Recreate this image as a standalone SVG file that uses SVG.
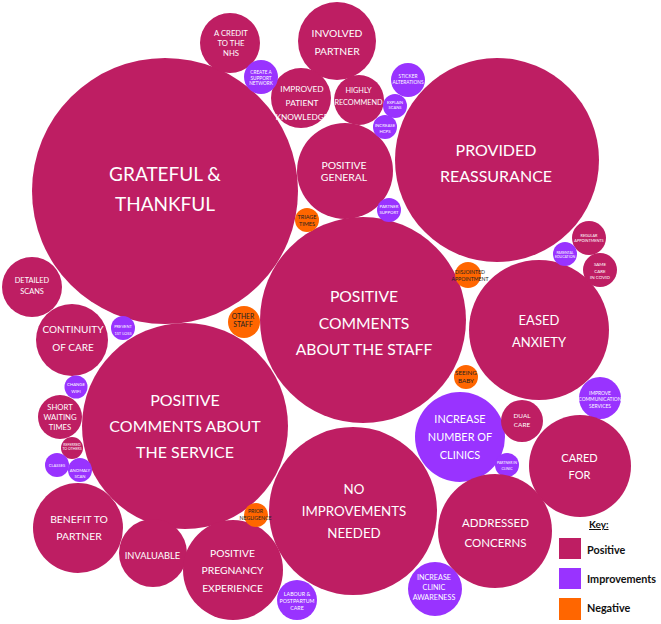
<svg xmlns="http://www.w3.org/2000/svg" width="661" height="624" viewBox="0 0 661 624">
<style>
.p{fill:#BE1E63}
.i{fill:#9933FF}
.o{fill:#FF6600}
text{font-family:Lato,"Liberation Sans",sans-serif;text-anchor:middle;fill:#FFFFFF}
.d{fill:#222222}
.k{text-anchor:start;fill:#111111;font-weight:bold}
</style>
<rect width="661" height="624" fill="#FFFFFF"/>
<g id="grateful"><circle class="p" cx="165" cy="191" r="133"/><text font-size="19"><tspan x="165" y="181">GRATEFUL &amp;</tspan><tspan x="165" y="211">THANKFUL</tspan></text></g>
<g id="reassurance"><circle class="p" cx="497" cy="160" r="102"/><text font-size="16"><tspan x="496" y="156">PROVIDED</tspan><tspan x="496" y="182">REASSURANCE</tspan></text></g>
<g id="staff"><circle class="p" cx="363" cy="320" r="103"/><text font-size="15.7"><tspan x="364" y="302">POSITIVE</tspan><tspan x="364" y="329">COMMENTS</tspan><tspan x="364" y="355">ABOUT THE STAFF</tspan></text></g>
<g id="service"><circle class="p" cx="185" cy="426" r="103"/><text font-size="16"><tspan x="185" y="406">POSITIVE</tspan><tspan x="185" y="432">COMMENTS ABOUT</tspan><tspan x="185" y="458">THE SERVICE</tspan></text></g>
<g id="noimprovements"><circle class="p" cx="353" cy="511" r="84"/><text font-size="13.3"><tspan x="354" y="494">NO</tspan><tspan x="354" y="516">IMPROVEMENTS</tspan><tspan x="354" y="538">NEEDED</tspan></text></g>
<g id="eased"><circle class="p" cx="539" cy="330" r="70"/><text font-size="13"><tspan x="539" y="325">EASED</tspan><tspan x="539" y="347">ANXIETY</tspan></text></g>
<g id="general"><circle class="p" cx="345" cy="171" r="48"/><text font-size="10.4"><tspan x="344" y="169">POSITIVE</tspan><tspan x="344" y="181">GENERAL</tspan></text></g>
<g id="involved"><circle class="p" cx="337" cy="41" r="39"/><text font-size="10.3"><tspan x="337" y="37">INVOLVED</tspan><tspan x="337" y="55">PARTNER</tspan></text></g>
<g id="knowledge"><circle class="p" cx="301" cy="98" r="30"/><text font-size="8.3"><tspan x="302" y="92">IMPROVED</tspan><tspan x="302" y="106">PATIENT</tspan><tspan x="302" y="120">KNOWLEDGE</tspan></text></g>
<g id="recommend"><circle class="p" cx="359" cy="100" r="25"/><text font-size="7.3"><tspan x="358.5" y="93">HIGHLY</tspan><tspan x="358.5" y="105">RECOMMEND</tspan></text></g>
<g id="credit"><circle class="p" cx="230" cy="43" r="30"/><text font-size="7.7"><tspan x="231" y="36">A CREDIT</tspan><tspan x="231" y="46">TO THE</tspan><tspan x="231" y="56">NHS</tspan></text></g>
<g id="network"><circle class="i" cx="261" cy="77" r="17"/><text font-size="4.7"><tspan x="261" y="74">CREATE A</tspan><tspan x="261" y="79.5">SUPPORT</tspan><tspan x="261" y="85">NETWORK</tspan></text></g>
<g id="sticker"><circle class="i" cx="408" cy="80" r="17"/><text font-size="4.8"><tspan x="408" y="78">STICKER</tspan><tspan x="408" y="84">ALTERATIONS</tspan></text></g>
<g id="explain"><circle class="i" cx="395" cy="106" r="12"/><text font-size="4"><tspan x="395" y="104.2">EXPLAIN</tspan><tspan x="395" y="108.8">SCANS</tspan></text></g>
<g id="hcps"><circle class="i" cx="385" cy="127" r="12"/><text font-size="4.3"><tspan x="385" y="126.5">INCREASE</tspan><tspan x="385" y="132.5">HCPS</tspan></text></g>
<g id="triage"><circle class="o" cx="307" cy="220" r="12"/><text class="d" font-size="5.5"><tspan x="307" y="219">TRIAGE</tspan><tspan x="307" y="226">TIMES</tspan></text></g>
<g id="partnersupport"><circle class="i" cx="389" cy="210" r="12"/><text font-size="4.3"><tspan x="389" y="208.3">PARTNER</tspan><tspan x="389" y="213.8">SUPPORT</tspan></text></g>
<g id="disjointed"><circle class="o" cx="468" cy="275" r="13"/><text class="d" font-size="5.2"><tspan x="470" y="274">DISJOINTED</tspan><tspan x="470" y="281">APPOINTMENT</tspan></text></g>
<g id="regular"><circle class="p" cx="589" cy="238" r="17"/><text font-size="3.8"><tspan x="589" y="236.5">REGULAR</tspan><tspan x="589" y="241.5">APPOINTMENTS</tspan></text></g>
<g id="parental"><circle class="i" cx="565" cy="254" r="12"/><text font-size="3.5"><tspan x="565" y="254.3">PARENTAL</tspan><tspan x="565" y="258.3">EDUCATION</tspan></text></g>
<g id="samecare"><circle class="p" cx="600" cy="270" r="17"/><text font-size="4.5"><tspan x="600" y="265.6">SAME</tspan><tspan x="600" y="272.6">CARE</tspan><tspan x="600" y="278.6">IN COVID</tspan></text></g>
<g id="detailed"><circle class="p" cx="32" cy="287" r="30"/><text font-size="7.4"><tspan x="32" y="283">DETAILED</tspan><tspan x="32" y="294">SCANS</tspan></text></g>
<g id="continuity"><circle class="p" cx="72" cy="340" r="36"/><text font-size="10"><tspan x="73" y="333">CONTINUITY</tspan><tspan x="73" y="351">OF CARE</tspan></text></g>
<g id="prevent"><circle class="i" cx="123" cy="328" r="12"/><text font-size="4"><tspan x="123" y="327.5">PREVENT</tspan><tspan x="123" y="334.5">1ST LOSS</tspan></text></g>
<g id="wifi"><circle class="i" cx="76" cy="387" r="11.5"/><text font-size="4.3"><tspan x="76" y="385.5">CHANGE</tspan><tspan x="76" y="392.5">WIFI</tspan></text></g>
<g id="waiting"><circle class="p" cx="60" cy="417" r="22"/><text font-size="7.7"><tspan x="60" y="410">SHORT</tspan><tspan x="60" y="420">WAITING</tspan><tspan x="60" y="430">TIMES</tspan></text></g>
<g id="referred"><circle class="p" cx="72" cy="448" r="11"/><text font-size="3.5"><tspan x="72" y="446.3">REFERRED</tspan><tspan x="72" y="450.3">TO OTHERS</tspan></text></g>
<g id="classes"><circle class="i" cx="57" cy="465" r="12"/><text font-size="4"><tspan x="57" y="467.4">CLASSES</tspan></text></g>
<g id="anomaly"><circle class="i" cx="80" cy="470" r="12"/><text font-size="4.2"><tspan x="80" y="471.5">ANOMALY</tspan><tspan x="80" y="477.5">SCAN</tspan></text></g>
<g id="otherstaff"><circle class="o" cx="244" cy="322" r="16"/><text class="d" font-size="6.8"><tspan x="243" y="318.5">OTHER</tspan><tspan x="243" y="326.5">STAFF</tspan></text></g>
<g id="seeingbaby"><circle class="o" cx="466" cy="377" r="12"/><text class="d" font-size="6.3"><tspan x="466" y="375.3">SEEING</tspan><tspan x="466" y="383.3">BABY</tspan></text></g>
<g id="clinics"><circle class="i" cx="460" cy="437" r="45"/><text font-size="10.9"><tspan x="460" y="423">INCREASE</tspan><tspan x="460" y="441">NUMBER OF</tspan><tspan x="460" y="459">CLINICS</tspan></text></g>
<g id="dualcare"><circle class="p" cx="522" cy="421" r="21"/><text font-size="6.4"><tspan x="522" y="418.3">DUAL</tspan><tspan x="522" y="427.3">CARE</tspan></text></g>
<g id="partnerclinic"><circle class="i" cx="507" cy="465" r="12"/><text font-size="3.5"><tspan x="507" y="464.3">PARTNER IN</tspan><tspan x="507" y="470.3">CLINIC</tspan></text></g>
<g id="communication"><circle class="i" cx="600" cy="398" r="21"/><text font-size="4.9"><tspan x="600" y="394.8">IMPROVE</tspan><tspan x="600" y="400.8">COMMUNICATION</tspan><tspan x="600" y="407.8">SERVICES</tspan></text></g>
<g id="caredfor"><circle class="p" cx="580" cy="466" r="51"/><text font-size="11"><tspan x="579.5" y="462">CARED</tspan><tspan x="579.5" y="479">FOR</tspan></text></g>
<g id="addressed"><circle class="p" cx="495" cy="531" r="57"/><text font-size="11.5"><tspan x="495.5" y="527">ADDRESSED</tspan><tspan x="495.5" y="547">CONCERNS</tspan></text></g>
<g id="benefit"><circle class="p" cx="78" cy="528" r="45"/><text font-size="10.4"><tspan x="79" y="523">BENEFIT TO</tspan><tspan x="79" y="540">PARTNER</tspan></text></g>
<g id="invaluable"><circle class="p" cx="153" cy="553" r="34"/><text font-size="9.3"><tspan x="152.5" y="559">INVALUABLE</tspan></text></g>
<g id="pregnancy"><circle class="p" cx="233" cy="570" r="50"/><text font-size="10.3"><tspan x="232.5" y="557">POSITIVE</tspan><tspan x="232.5" y="574">PREGNANCY</tspan><tspan x="232.5" y="592">EXPERIENCE</tspan></text></g>
<g id="labour"><circle class="i" cx="297" cy="600" r="20"/><text font-size="5.3"><tspan x="297" y="596">LABOUR &amp;</tspan><tspan x="297" y="603">POSTPARTUM</tspan><tspan x="297" y="610">CARE</tspan></text></g>
<g id="negligence"><circle class="o" cx="256" cy="515" r="12"/><text class="d" font-size="5.2"><tspan x="255.5" y="513">PRIOR</tspan><tspan x="255.5" y="520">NEGLIGENCE</tspan></text></g>
<g id="awareness"><circle class="i" cx="435" cy="589" r="27"/><text font-size="7.2"><tspan x="434" y="579.6">INCREASE</tspan><tspan x="434" y="589.6">CLINIC</tspan><tspan x="434" y="599.6">AWARENESS</tspan></text></g>
<g id="connectors"></g>
<g id="key">
<text class="k" x="589" y="528" font-size="10" text-decoration="underline">Key:</text>
<rect class="p" x="559" y="538" width="22" height="21"/>
<rect class="i" x="559" y="568" width="22" height="21"/>
<rect class="o" x="559" y="598" width="22" height="22"/>
<text class="k" x="587" y="554" font-size="10.8">Positive</text>
<text class="k" x="587" y="583" font-size="10.8">Improvements</text>
<text class="k" x="587" y="612" font-size="10.8">Negative</text>
</g>
</svg>
